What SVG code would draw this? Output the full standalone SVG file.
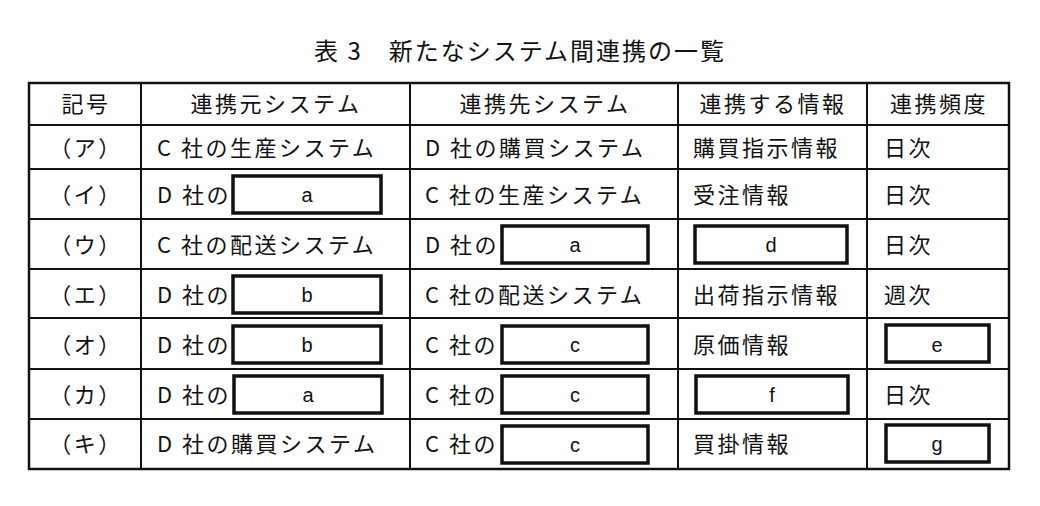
<svg xmlns="http://www.w3.org/2000/svg" width="1040" height="506" viewBox="0 0 1040 506">
<style>
text{font-family:"Noto Sans CJK JP","Liberation Sans",sans-serif;font-size:22px;fill:#111;letter-spacing:2.5px}
.c{text-anchor:middle}
.v{font-family:"Liberation Sans",sans-serif;font-size:20px;letter-spacing:0}
.box{fill:#fff;stroke:#111;stroke-width:3.5}
.grid line{stroke:#111;stroke-width:2}
</style>
<rect width="1040" height="506" fill="#fff"/>
<text x="520" y="60" class="c" style="font-size:24px;letter-spacing:2px">表 3　新たなシステム間連携の一覧</text>
<g id="connectors" class="grid">
<rect x="29" y="83" width="980" height="386" fill="none" stroke="#111" stroke-width="2.5"/>
<line x1="141" y1="83" x2="141" y2="469"/><line x1="410" y1="83" x2="410" y2="469"/>
<line x1="678" y1="83" x2="678" y2="469"/><line x1="867" y1="83" x2="867" y2="469"/>
<line x1="29" y1="125" x2="1009" y2="125"/><line x1="29" y1="169" x2="1009" y2="169"/>
<line x1="29" y1="219" x2="1009" y2="219"/><line x1="29" y1="269" x2="1009" y2="269"/>
<line x1="29" y1="318" x2="1009" y2="318"/><line x1="29" y1="369" x2="1009" y2="369"/>
<line x1="29" y1="419" x2="1009" y2="419"/>
</g>
<g id="header">
<text x="86" y="112" class="c">記号</text><text x="276" y="112" class="c">連携元システム</text>
<text x="545" y="112" class="c">連携先システム</text><text x="773" y="112" class="c">連携する情報</text>
<text x="939" y="112" class="c">連携頻度</text>
</g>
<g id="row-a"><text x="86" y="156" class="c">（ア）</text><text x="157" y="156">C 社の生産システム</text><text x="425" y="156">D 社の購買システム</text><text x="693" y="156">購買指示情報</text><text x="884" y="156">日次</text></g>
<g id="row-i"><text x="86" y="203" class="c">（イ）</text><text x="157" y="203">D 社の</text><rect class="box" x="233" y="176" width="148" height="37"/><text x="307" y="202" class="c v">a</text><text x="425" y="203">C 社の生産システム</text><text x="693" y="203">受注情報</text><text x="884" y="203">日次</text></g>
<g id="row-u"><text x="86" y="253" class="c">（ウ）</text><text x="157" y="253">C 社の配送システム</text><text x="425" y="253">D 社の</text><rect class="box" x="502" y="226" width="146" height="37"/><text x="575" y="252" class="c v">a</text><rect class="box" x="695" y="226" width="152" height="37"/><text x="771" y="252" class="c v">d</text><text x="884" y="253">日次</text></g>
<g id="row-e"><text x="86" y="303" class="c">（エ）</text><text x="157" y="303">D 社の</text><rect class="box" x="233" y="276" width="148" height="37"/><text x="307" y="302" class="c v">b</text><text x="425" y="303">C 社の配送システム</text><text x="693" y="303">出荷指示情報</text><text x="884" y="303">週次</text></g>
<g id="row-o"><text x="86" y="353" class="c">（オ）</text><text x="157" y="353">D 社の</text><rect class="box" x="233" y="326" width="148" height="37"/><text x="307" y="352" class="c v">b</text><text x="425" y="353">C 社の</text><rect class="box" x="502" y="326" width="146" height="37"/><text x="575" y="352" class="c v">c</text><text x="693" y="353">原価情報</text><rect class="box" x="886" y="325" width="103" height="37"/><text x="937" y="352" class="c v">e</text></g>
<g id="row-ka"><text x="86" y="403" class="c">（カ）</text><text x="157" y="403">D 社の</text><rect class="box" x="234" y="376" width="148" height="37"/><text x="308" y="402" class="c v">a</text><text x="425" y="403">C 社の</text><rect class="box" x="502" y="376" width="146" height="37"/><text x="575" y="402" class="c v">c</text><rect class="box" x="696" y="376" width="152" height="37"/><text x="772" y="402" class="c v">f</text><text x="884" y="403">日次</text></g>
<g id="row-ki"><text x="86" y="452" class="c">（キ）</text><text x="157" y="452">D 社の購買システム</text><text x="425" y="452">C 社の</text><rect class="box" x="502" y="426" width="146" height="37"/><text x="575" y="452" class="c v">c</text><text x="693" y="452">買掛情報</text><rect class="box" x="886" y="425" width="103" height="37"/><text x="937" y="451" class="c v">g</text></g>
</svg>
